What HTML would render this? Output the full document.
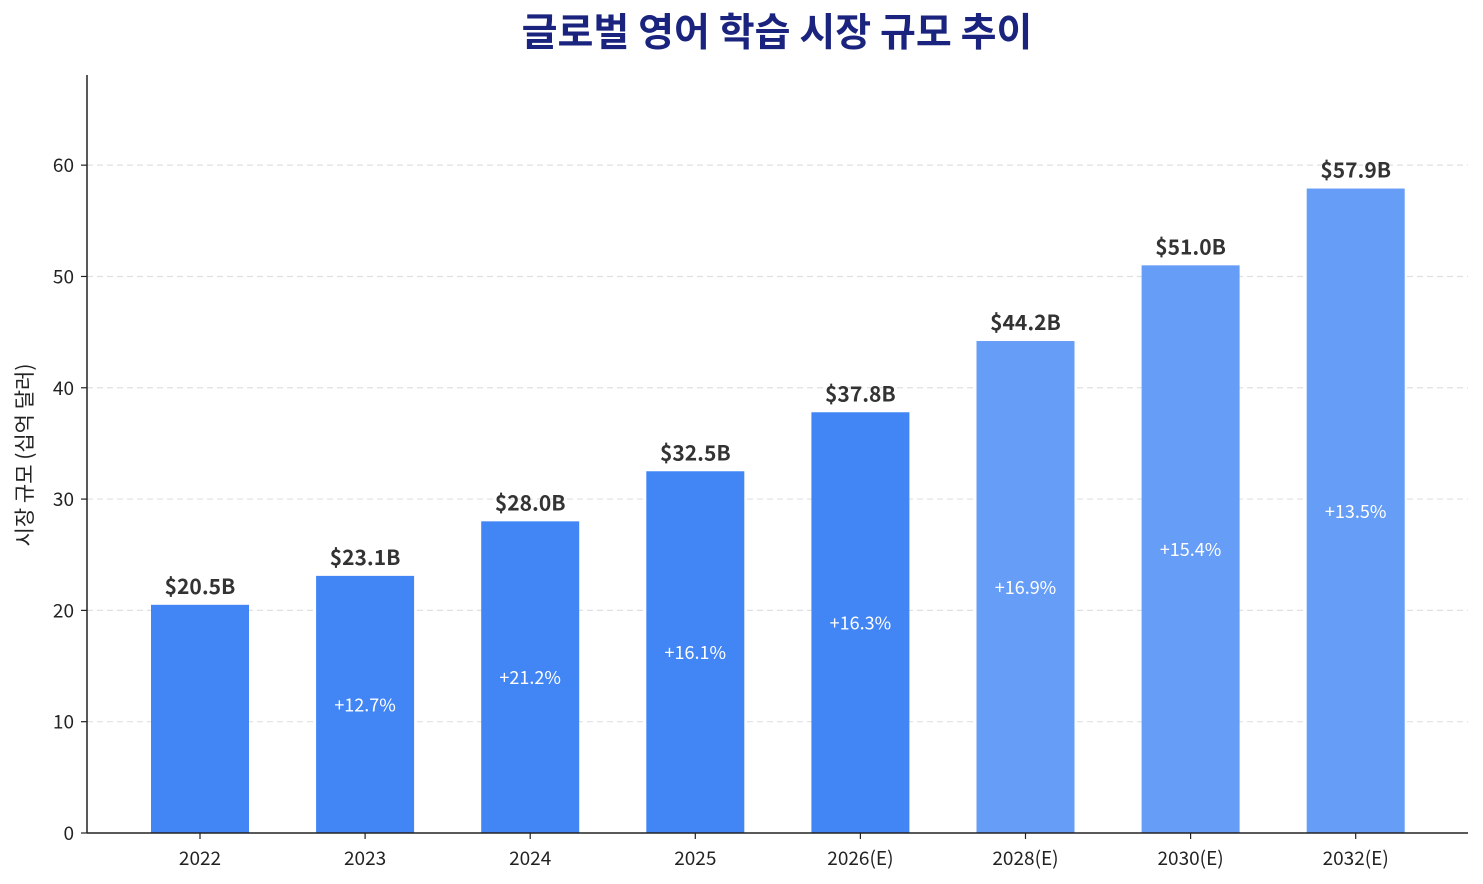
<!DOCTYPE html>
<html><head><meta charset="utf-8">
<style>
html,body{margin:0;padding:0;background:#fff;}
svg{display:block;font-family:"Noto Sans CJK KR","Liberation Sans",sans-serif;}
</style></head>
<body>
<svg id="chart" width="1483" height="884" xmlns="http://www.w3.org/2000/svg">
<text x="777" y="46" text-anchor="middle" font-size="39" font-weight="bold" fill="#1a237e">글로벌 영어 학습 시장 규모 추이</text>
<text transform="translate(32,455) rotate(-90)" text-anchor="middle" font-size="21" fill="#222">시장 규모 (십억 달러)</text>
<g id="grid"></g><g id="bars"></g><g id="axes"></g>
</svg>
<script>
const categories=["2022","2023","2024","2025","2026(E)","2028(E)","2030(E)","2032(E)"];
const values=[20.5,23.1,28.0,32.5,37.8,44.2,51.0,57.9];
const growth=[null,"+12.7%","+21.2%","+16.1%","+16.3%","+16.9%","+15.4%","+13.5%"];
const estimated=[false,false,false,false,false,true,true,true];
const yTicks=[0,10,20,30,40,50,60];

const NS="http://www.w3.org/2000/svg";
const plotLeft=87,plotRight=1468,plotBottom=833,plotTop=75,yMax=68.1;
const yScale=v=>plotBottom-v*(plotBottom-plotTop)/yMax;
const xScale=i=>200+i*165.1;
const bw=98;
function mk(tag,attrs,parent,text){const e=document.createElementNS(NS,tag);for(const k in attrs)e.setAttribute(k,attrs[k]);if(text!==undefined)e.textContent=text;parent.appendChild(e);return e;}
const gridG=document.getElementById('grid'),barsG=document.getElementById('bars'),axesG=document.getElementById('axes');
yTicks.forEach(t=>{
  if(t>0){const g=mk('line',{x1:plotLeft,x2:plotRight,y1:yScale(t),y2:yScale(t),stroke:'#e0e0e0','stroke-dasharray':'6,4','stroke-width':1.2},gridG);
  
  }
  mk('line',{x1:plotLeft-6,x2:plotLeft,y1:yScale(t),y2:yScale(t),stroke:'#222','stroke-width':1.2},axesG);
  const l=mk('text',{x:plotLeft-13,y:yScale(t)+7,'text-anchor':'end','font-size':19,fill:'#222'},axesG,String(t));
  
  
});
categories.forEach((c,i)=>{
  const v=values[i],cx=xScale(i);
  const r=mk('rect',{x:cx-bw/2,y:yScale(v),width:bw,height:plotBottom-yScale(v),fill:estimated[i]?'#669df6':'#4285f4'},barsG);
  
  
  const vl=mk('text',{x:cx,y:yScale(v)-11,'text-anchor':'middle','font-size':21,'font-weight':'bold',fill:'#333'},barsG,'$'+v.toFixed(1)+'B');
  
  
  if(growth[i]){const gl=mk('text',{x:cx,y:yScale(v/2)+7,'text-anchor':'middle','font-size':18,fill:'#fff'},barsG,growth[i]);
  
  }
  mk('line',{x1:cx,x2:cx,y1:plotBottom,y2:plotBottom+6,stroke:'#222','stroke-width':1.2},axesG);
  const xl=mk('text',{x:cx,y:plotBottom+32,'text-anchor':'middle','font-size':19,fill:'#222'},axesG,c);
  
  
});
mk('line',{x1:plotLeft,x2:plotLeft,y1:plotTop,y2:plotBottom,stroke:'#222','stroke-width':1.5},axesG);
mk('line',{x1:plotLeft,x2:plotRight,y1:plotBottom,y2:plotBottom,stroke:'#222','stroke-width':1.5},axesG);
</script>
</body></html>
